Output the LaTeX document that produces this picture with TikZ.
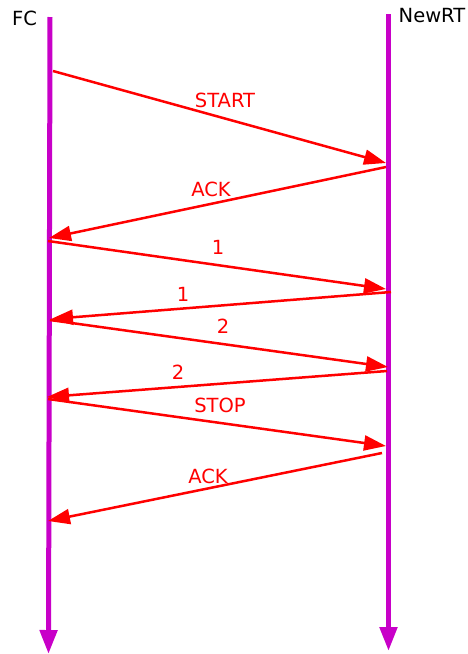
\documentclass[tikz,border=0pt]{standalone}
\usepackage{fontspec}
\setmainfont{DejaVu Sans}
\usetikzlibrary{arrows.meta}
\definecolor{lifeline}{RGB}{200,0,200}
\definecolor{msgred}{RGB}{255,0,0}
\begin{document}
\begin{tikzpicture}[x=1pt,y=-1pt,
  lifelinestyle/.style={draw=lifeline,line width=5pt,
    -{Triangle[length=24pt,width=17pt]}},
  msgline/.style={draw=msgred,line width=2.5pt,
    -{Triangle[length=22pt,width=15pt]}},
  msglabel/.style={text=msgred,font=\fontsize{19.5}{19.5}\selectfont,inner sep=0pt},
  actor/.style={text=black,font=\fontsize{19.5}{19.5}\selectfont,inner sep=0pt}]
\useasboundingbox (0,0) rectangle (468,654);

% lifelines
\coordinate (fcTop) at (50,17);
\coordinate (fcBot) at (48.5,654);
\coordinate (rtTop) at (388.5,14);
\coordinate (rtBot) at (388.5,651);
\path[lifelinestyle] (fcTop) -- (fcBot);
\path[lifelinestyle] (rtTop) -- (rtBot);
\node[actor] (fc) at (24.5,18) {FC};
\node[actor] (rt) at (432,16) {NewRT};

% message end points
\coordinate (m1a) at (53,71);   \coordinate (m1b) at (386,163);
\coordinate (m2a) at (386,167); \coordinate (m2b) at (49,238);
\coordinate (m3a) at (48,241);  \coordinate (m3b) at (386,289);
\coordinate (m4a) at (391,292); \coordinate (m4b) at (51,319);
\coordinate (m5a) at (50,320);  \coordinate (m5b) at (388,367);
\coordinate (m6a) at (387,371); \coordinate (m6b) at (47,397);
\coordinate (m7a) at (48,399);  \coordinate (m7b) at (386,446);
\coordinate (m8a) at (382,453); \coordinate (m8b) at (48,521);

% messages
\path[msgline] (m1a) -- (m1b);
\path[msgline] (m2a) -- (m2b);
\path[msgline] (m3a) -- (m3b);
\path[msgline] (m4a) -- (m4b);
\path[msgline] (m5a) -- (m5b);
\path[msgline] (m6a) -- (m6b);
\path[msgline] (m7a) -- (m7b);
\path[msgline] (m8a) -- (m8b);

% message labels
\node[msglabel] (l1) at (225,100) {START};
\node[msglabel] (l2) at (211,189) {ACK};
\node[msglabel] (l3) at (218,247) {1};
\node[msglabel] (l4) at (183,294) {1};
\node[msglabel] (l5) at (223,326) {2};
\node[msglabel] (l6) at (178,372) {2};
\node[msglabel] (l7) at (220,405) {STOP};
\node[msglabel] (l8) at (208,476) {ACK};
\end{tikzpicture}
\end{document}
